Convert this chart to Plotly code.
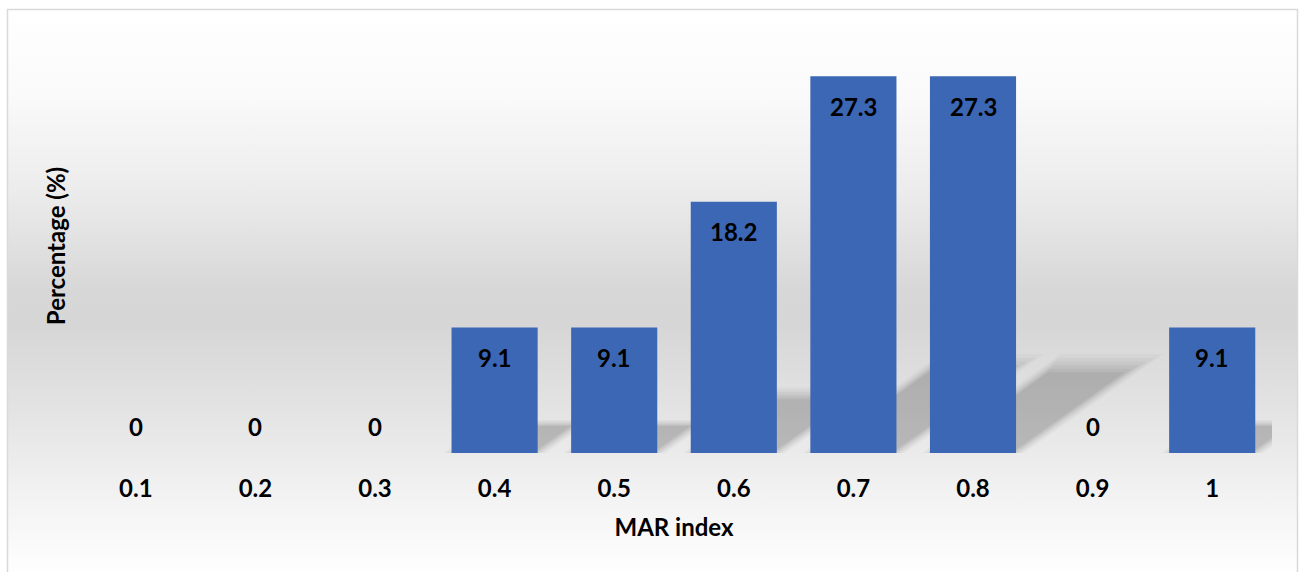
import base64
import plotly.graph_objects as go

categories = ["0.1", "0.2", "0.3", "0.4", "0.5", "0.6", "0.7", "0.8", "0.9", "1"]
percentages = [0, 0, 0, 9.1, 9.1, 18.2, 27.3, 27.3, 0, 9.1]
value_labels = ["0", "0", "0", "9.1", "9.1", "18.2", "27.3", "27.3", "0", "9.1"]

x_title = "MAR index"
y_title = "Percentage (%)"

W, H = 1301, 572
L, R, T, B = 76, 29, 39, 119
PW, PH = W - L - R, H - T - B

BAR_GAP = 0.28
BAR_W = 1 - BAR_GAP
FONT = "Lato, 'Open Sans', sans-serif"
FSIZE = 24


def px_to_paper_x(px):
    return (px - L) / PW


def py_to_paper_y(py):
    return (H - B - py) / PH


# background gradient (white -> grey -> white) as an inline svg image
svg = (
    '<svg xmlns="http://www.w3.org/2000/svg" width="100" height="100" '
    'viewBox="0 0 100 100" preserveAspectRatio="none">'
    '<defs><linearGradient id="g" x1="0" y1="0" x2="0" y2="1">'
    '<stop offset="0" stop-color="#ffffff"/>'
    '<stop offset="0.15" stop-color="#fafafa"/>'
    '<stop offset="0.32" stop-color="#ececec"/>'
    '<stop offset="0.50" stop-color="#d7d7d7"/>'
    '<stop offset="0.56" stop-color="#d6d6d6"/>'
    '<stop offset="0.72" stop-color="#e4e4e4"/>'
    '<stop offset="0.86" stop-color="#f2f2f2"/>'
    '<stop offset="1" stop-color="#fefefe"/>'
    '</linearGradient></defs>'
    '<rect x="0" y="0" width="100" height="100" fill="url(#g)"/></svg>'
)
svg_uri = "data:image/svg+xml;base64," + base64.b64encode(svg.encode()).decode()

xs = list(range(len(categories)))

fig = go.Figure()
fig.add_trace(
    go.Bar(
        x=xs,
        y=percentages,
        marker=dict(color="#3c67b5", line=dict(width=0)),
        hoverinfo="x+y",
        showlegend=False,
    )
)

shapes = []
# chart border
shapes.append(
    dict(
        type="rect",
        xref="paper",
        yref="paper",
        x0=px_to_paper_x(7.5),
        x1=px_to_paper_x(1297.5),
        y0=py_to_paper_y(590),
        y1=py_to_paper_y(9.5),
        line=dict(color="#d9d9d9", width=1.5),
        fillcolor="rgba(0,0,0,0)",
        layer="below",
    )
)

# soft perspective shadows cast by the bars (layered to fake a blur)
KX, KY = 0.0386, 0.238
blur_layers = [
    (1.10, 0.07, 0.025),
    (1.06, 0.045, 0.03),
    (1.02, 0.02, 0.035),
    (0.98, 0.0, 0.04),
    (0.94, -0.02, 0.045),
    (0.90, -0.04, 0.05),
]
for xi, v in zip(xs, percentages):
    if v <= 0:
        continue
    for scale, grow, alpha in blur_layers:
        xl = xi - BAR_W / 2 - grow
        xr = xi + BAR_W / 2 + grow
        dx = KX * v * scale
        dy = KY * v * scale
        path = f"M {xl} 0 L {xr} 0 L {xr + dx} {dy} L {xl + dx} {dy} Z"
        shapes.append(
            dict(
                type="path",
                path=path,
                xref="x",
                yref="y",
                fillcolor=f"rgba(0,0,0,{alpha})",
                line=dict(width=0),
                layer="below",
            )
        )

annotations = []
for xi, v, lab in zip(xs, percentages, value_labels):
    annotations.append(
        dict(
            x=xi,
            y=v,
            xref="x",
            yref="y",
            text=f"<b>{lab}</b>",
            showarrow=False,
            yanchor="middle",
            yshift=-30 if v > 0 else 27,
            font=dict(family=FONT, size=FSIZE, color="#000000"),
        )
    )

fig.update_layout(
    width=W,
    height=H,
    margin=dict(l=L, r=R, t=T, b=B),
    paper_bgcolor="#ffffff",
    plot_bgcolor="rgba(0,0,0,0)",
    bargap=BAR_GAP,
    showlegend=False,
    font=dict(family=FONT, color="#000000"),
    shapes=shapes,
    annotations=annotations,
    images=[
        dict(
            source=svg_uri,
            xref="paper",
            yref="paper",
            x=px_to_paper_x(8),
            y=py_to_paper_y(10),
            sizex=(1297 - 8) / PW,
            sizey=(572 - 10) / PH,
            xanchor="left",
            yanchor="top",
            sizing="stretch",
            layer="below",
        )
    ],
    xaxis=dict(
        range=[-0.5, len(categories) - 0.5],
        tickmode="array",
        tickvals=xs,
        ticktext=[f"<b>{c}</b>" for c in categories],
        tickfont=dict(family=FONT, size=FSIZE, color="#000000"),
        showgrid=False,
        zeroline=False,
        showline=False,
        ticks="",
        ticklabelstandoff=19,
        title=dict(
            text=f"<b>{x_title}</b>",
            font=dict(family=FONT, size=FSIZE, color="#000000"),
            standoff=18,
        ),
    ),
    yaxis=dict(
        range=[0, 30],
        showgrid=False,
        zeroline=False,
        showline=False,
        showticklabels=False,
        ticks="",
        title=dict(
            text=f"<b>{y_title}</b>",
            font=dict(family=FONT, size=FSIZE, color="#000000"),
            standoff=2,
        ),
    ),
)

fig.write_html("out.html")
